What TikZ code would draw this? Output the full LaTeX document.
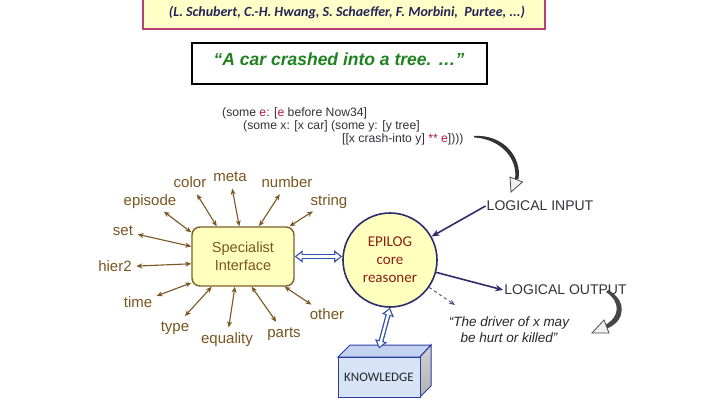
\documentclass[tikz,border=0pt]{standalone}
\usepackage{fontspec}
\setmainfont{Liberation Sans}
\newfontfamily\calib{Carlito}
\usetikzlibrary{arrows.meta}
\definecolor{brn}{RGB}{122,86,32}
\definecolor{brnbox}{RGB}{125,95,40}
\definecolor{yel}{RGB}{255,255,190}
\definecolor{navy}{RGB}{45,45,110}
\definecolor{epred}{RGB}{140,30,20}
\definecolor{blu}{RGB}{50,80,170}
\definecolor{pinkb}{RGB}{190,60,120}
\definecolor{topyel}{RGB}{255,255,200}
\definecolor{qgreen}{RGB}{30,130,30}
\definecolor{lfred}{RGB}{180,30,60}
\definecolor{dgray}{RGB}{50,50,60}
\definecolor{kblue}{RGB}{215,228,248}
\definecolor{ktop}{RGB}{195,212,240}
\definecolor{kedge}{RGB}{45,60,160}
\begin{document}
\begin{tikzpicture}[x=1pt,y=-1pt,
  lbl/.style={text=brn,font=\fontsize{15}{18}\selectfont,inner sep=1.5pt,text height=11pt,text depth=3pt},
  spoke/.style={draw=brn,line width=1.1pt,shorten <=3pt,{Stealth[length=6pt,width=5pt]}-{Stealth[length=6pt,width=5pt]}},
  logarr/.style={draw=navy,line width=1.6pt,-{Stealth[length=8pt,width=6.5pt]}},
  dblout/.style={draw=blu,line width=5pt,{Triangle[length=8pt,width=12pt]}-{Triangle[length=8pt,width=12pt]}},
  dblin/.style={draw=white,line width=2.4pt,{Triangle[length=5pt,width=7pt]}-{Triangle[length=5pt,width=7pt]},shorten <=1.9pt,shorten >=1.9pt},
  lform/.style={anchor=west,text=dgray,font=\fontsize{12.2}{14}\selectfont,inner sep=0pt},
  caps/.style={text=dgray,font=\fontsize{14}{16}\selectfont,inner sep=1pt}
]
\useasboundingbox (0,0) rectangle (720,404);
\fill[white] (0,0) rectangle (720,404);

% top author box
\draw[draw=pinkb,fill=topyel,line width=2.5pt] (143,-5) rectangle (545,29);
\node[text=navy!80!black,font=\calib\bfseries\itshape\fontsize{14}{16}\selectfont] (authors) at (347,12)
  {(L. Schubert, C.-H. Hwang, S. Schaeffer, F. Morbini,\ \ Purtee, ...)};

% quote box
\draw[draw=black,fill=white,line width=2.5pt] (192,43) rectangle (487,84);
\node[text=qgreen,font=\bfseries\itshape\fontsize{17.5}{19}\selectfont] (quote) at (339,59)
  {“A car crashed into a tree. …”};

% logical form
\node[lform] (lf1) at (222,113) {(some \textcolor{lfred}{e}: [\textcolor{lfred}{e} before Now34]};
\node[lform] (lf2) at (243,126) {(some x: [x car] (some y: [y tree]};
\node[lform] (lf3) at (342,139) {[[x crash-into y] \textcolor{lfred}{** e}])))};

% curved arrow top
\fill[gray!40!black] (474,136) .. controls (503,134) and (522,157) .. (518.5,179)
  -- (515,179) .. controls (518,159) and (501,139) .. (474,137.4) -- cycle;
\draw[fill=gray!12,draw=gray!60!black,line width=0.8pt] (510,177) -- (511,192) -- (522.5,182) -- cycle;

% labels
\node[caps] (lin) at (540,206) {LOGICAL INPUT};
\node[caps] (lout) at (565.5,290) {LOGICAL OUTPUT};

% EPILOG circle
\node[circle,draw=navy,fill=yel,line width=1.6pt,minimum size=94pt,inner sep=0pt,
  text=epred,font=\calib\fontsize{15}{18}\selectfont,align=center] (epilog) at (390,260)
  {EPILOG\\core\\reasoner};

\draw[logarr] (lin.west) -- (epilog);
\draw[logarr] (epilog.-15) -- (lout.west);
\coordinate (dashend) at (455,305);
\draw[draw=gray!50!navy,line width=1pt,dash pattern=on 3pt off 3pt,-{Stealth[length=6pt,width=5pt]}] (epilog.-35) -- (dashend);

% driver quote
\node[text=black!85,font=\itshape\fontsize{13.5}{16}\selectfont,align=center] (driver) at (509,330)
  {“The driver of x may\\be hurt or killed”};

% bottom right curved arrow
\fill[gray!55!black] (608,290) .. controls (627,300) and (626,321) .. (607,328.5)
  -- (605,325) .. controls (620,317) and (621,302) .. (606,292) -- cycle;
\draw[fill=gray!12,draw=gray!60!black,line width=0.8pt] (609,333) -- (592,333) -- (604,320) -- cycle;

% Specialist interface
\node[draw=brnbox,fill=yel,line width=1.4pt,rounded corners=8pt,minimum width=102pt,minimum height=59pt,
  text=brn,font=\fontsize{14.5}{18}\selectfont,align=center] (spec) at (243,256.5)
  {Specialist\\Interface};

% horizontal double arrow
\draw[dblout] (spec.east) -- (spec.east -| epilog.west);
\draw[dblin] (spec.east) -- (spec.east -| epilog.west);

% knowledge box
\fill[ktop,draw=kedge,line width=1pt] (338,357) -- (350,345) -- (431,345) -- (420,357) -- cycle;
\shade[top color=gray!35,bottom color=gray!60,draw=kedge,line width=1pt] (420,357) -- (431,345) -- (431,386) -- (420,397) -- cycle;
\node[draw=kedge,fill=kblue,line width=1pt,minimum width=82pt,minimum height=40pt,
  text=black!85,font=\calib\fontsize{13}{15}\selectfont] (know) at (379,377) {KNOWLEDGE};

% vertical double arrow
\draw[dblout] (epilog.south) -- ([yshift=8pt]know.north);
\draw[dblin] (epilog.south) -- ([yshift=8pt]know.north);

% spoke labels
\node[lbl] (episode) at (150,201) {episode};
\node[lbl] (color) at (190,183) {color};
\node[lbl] (meta) at (230,177) {meta};
\node[lbl] (number) at (287,183) {number};
\node[lbl] (string) at (329,201) {string};
\node[lbl] (set) at (123,231) {set};
\node[lbl] (hier) at (115,267) {hier2};
\node[lbl] (time) at (138,303) {time};
\node[lbl] (type) at (175,327) {type};
\node[lbl] (equality) at (227,339) {equality};
\node[lbl] (parts) at (284,333) {parts};
\node[lbl] (other) at (327,315) {other};

% spokes
\draw[spoke] (episode) -- (spec.155.7);
\draw[spoke] (color) -- (spec.131.5);
\draw[spoke] (meta) -- (spec.97.5);
\draw[spoke] (number) -- (spec.62.3);
\draw[spoke] (string) -- (spec.33);
\draw[spoke] (set) -- (spec.169.6);
\draw[spoke] (hier) -- (spec.188);
\draw[spoke] (time) -- (spec.207);
\draw[spoke] (type) -- (spec.224.6);
\draw[spoke] (equality) -- (spec.255);
\draw[spoke] (parts) -- (spec.286.6);
\draw[spoke] (other) -- (spec.324);
\end{tikzpicture}
\end{document}
